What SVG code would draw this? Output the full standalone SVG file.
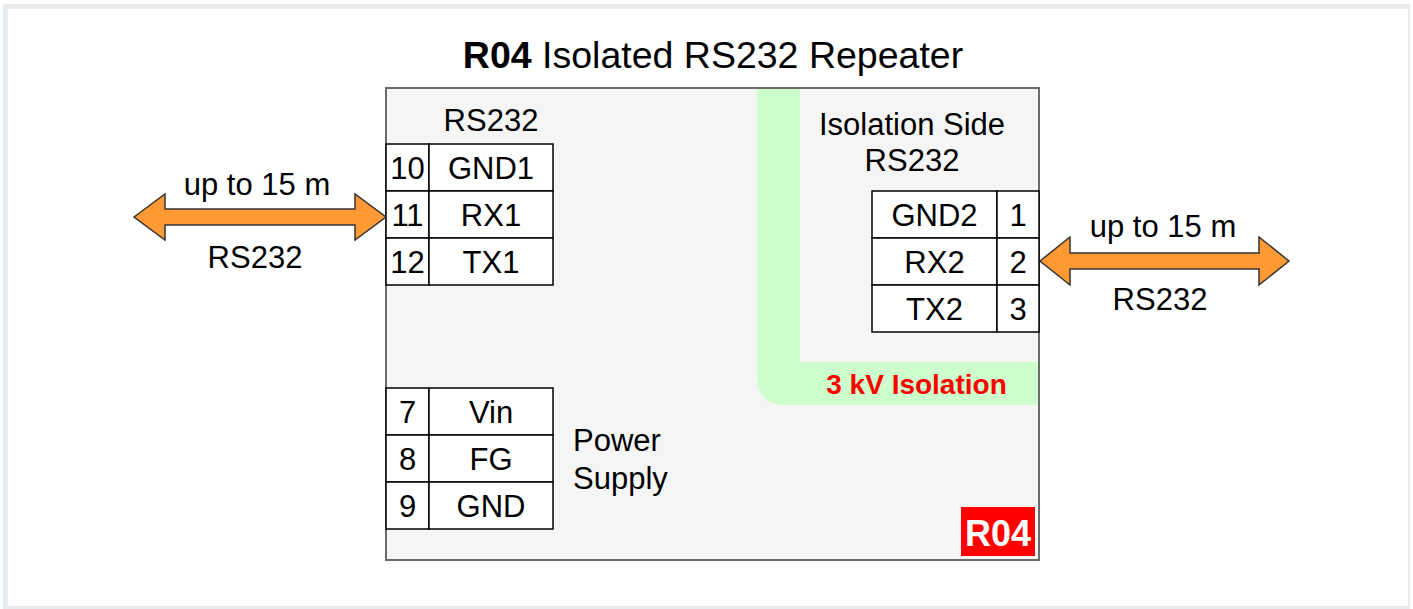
<svg xmlns="http://www.w3.org/2000/svg" width="1413" height="609" viewBox="0 0 1413 609">
  <style>
    text { font-family: "Liberation Sans", Arial, sans-serif; fill: #000; }
    .t { font-size: 31px; text-anchor: middle; }
    .cell { fill: #fff; stroke: #000; stroke-width: 1.5; }
    .arrow { fill: #ff9933; stroke: #333; stroke-width: 1.5; stroke-linejoin: miter; }
  </style>
  <g id="frame">
    <rect x="3" y="4" width="1407" height="605" fill="#e8ebee"/>
    <rect x="8" y="9" width="1400" height="597" fill="#fff"/>
  </g>
  <g id="title">
    <text x="713" y="68" font-size="37.5" text-anchor="middle"><tspan font-weight="bold">R04</tspan> Isolated RS232 Repeater</text>
  </g>
  <g id="device">
    <rect x="386" y="88" width="653" height="472" fill="#f5f5f5"/>
    <path id="isolation-band" d="M757,89 H800 V362 H1039 V405 H782 A25,25 0 0 1 757,380 Z" fill="#ccffcc"/>
    <rect x="386" y="88" width="653" height="472" fill="none" stroke="#6b6b6b" stroke-width="2"/>
    <text x="916.5" y="394" font-size="28" font-weight="bold" text-anchor="middle" style="fill:#ff0000">3 kV Isolation</text>
    <rect x="961" y="507" width="74" height="49" fill="#ff0000"/>
    <text x="998" y="546" font-size="36" font-weight="bold" text-anchor="middle" style="fill:#fff">R04</text>
  </g>
  <g id="rs232-left">
    <text class="t" x="491" y="131">RS232</text>
    <rect class="cell" x="386" y="144" width="43" height="47"/>
    <rect class="cell" x="429" y="144" width="124" height="47"/>
    <rect class="cell" x="386" y="191" width="43" height="47"/>
    <rect class="cell" x="429" y="191" width="124" height="47"/>
    <rect class="cell" x="386" y="238" width="43" height="47"/>
    <rect class="cell" x="429" y="238" width="124" height="47"/>
    <text class="t" x="407.5" y="178.5">10</text>
    <text class="t" x="491" y="178.5">GND1</text>
    <text class="t" x="407.5" y="225.5">11</text>
    <text class="t" x="491" y="225.5">RX1</text>
    <text class="t" x="407.5" y="272.5">12</text>
    <text class="t" x="491" y="272.5">TX1</text>
  </g>
  <g id="power-supply">
    <rect class="cell" x="386" y="388" width="43" height="47"/>
    <rect class="cell" x="429" y="388" width="124" height="47"/>
    <rect class="cell" x="386" y="435" width="43" height="47"/>
    <rect class="cell" x="429" y="435" width="124" height="47"/>
    <rect class="cell" x="386" y="482" width="43" height="47"/>
    <rect class="cell" x="429" y="482" width="124" height="47"/>
    <text class="t" x="407.5" y="422.5">7</text>
    <text class="t" x="491" y="422.5">Vin</text>
    <text class="t" x="407.5" y="469.5">8</text>
    <text class="t" x="491" y="469.5">FG</text>
    <text class="t" x="407.5" y="516.5">9</text>
    <text class="t" x="491" y="516.5">GND</text>
    <text x="573" y="451" font-size="31">Power</text>
    <text x="573" y="489" font-size="31">Supply</text>
  </g>
  <g id="rs232-right">
    <text class="t" x="912" y="135">Isolation Side</text>
    <text class="t" x="912" y="171">RS232</text>
    <rect class="cell" x="872" y="191" width="125" height="47"/>
    <rect class="cell" x="997" y="191" width="42" height="47"/>
    <rect class="cell" x="872" y="238" width="125" height="47"/>
    <rect class="cell" x="997" y="238" width="42" height="47"/>
    <rect class="cell" x="872" y="285" width="125" height="47"/>
    <rect class="cell" x="997" y="285" width="42" height="47"/>
    <text class="t" x="934.5" y="225.5">GND2</text>
    <text class="t" x="1018" y="225.5">1</text>
    <text class="t" x="934.5" y="272.5">RX2</text>
    <text class="t" x="1018" y="272.5">2</text>
    <text class="t" x="934.5" y="319.5">TX2</text>
    <text class="t" x="1018" y="319.5">3</text>
  </g>
  <g id="connectors">
    <path class="arrow" d="M134,217 L165,194 V209 H355 V194 L386,217 L355,240 V225 H165 V240 Z"/>
    <path class="arrow" d="M1040,261 L1070,237 V253 H1259 V237 L1289,261 L1259,285 V269 H1070 V285 Z"/>
    <text class="t" x="257" y="195">up to 15 m</text>
    <text class="t" x="255" y="268">RS232</text>
    <text class="t" x="1163" y="237">up to 15 m</text>
    <text class="t" x="1160" y="310">RS232</text>
  </g>
</svg>
